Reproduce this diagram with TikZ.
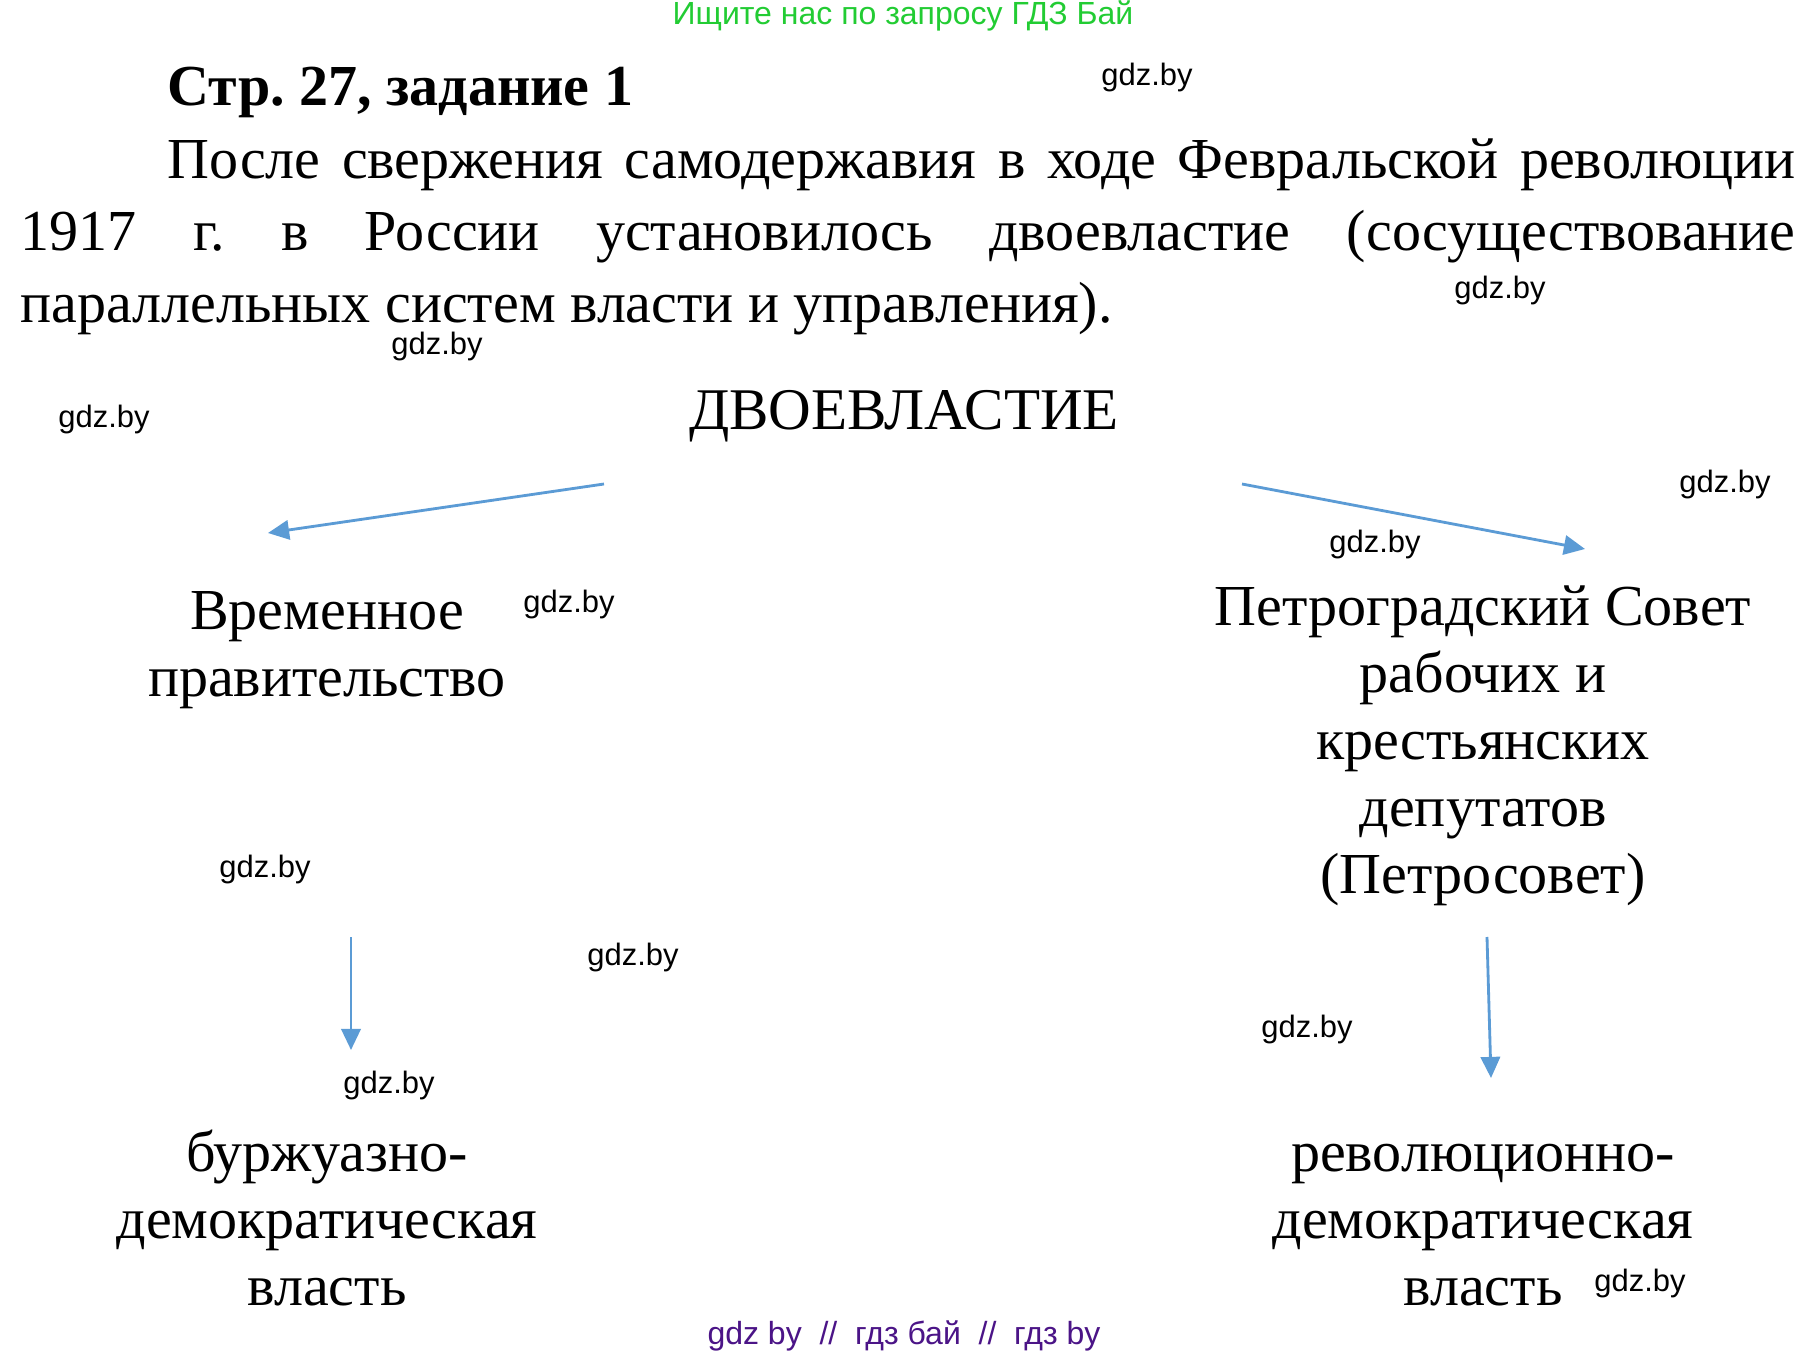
\documentclass[tikz,border=0pt]{standalone}
\usepackage{fontspec}
\setmainfont{Liberation Serif}
\newfontfamily\wmfont{Liberation Sans}
\usetikzlibrary{arrows.meta,calc}
\definecolor{arrowblue}{RGB}{91,155,213}
\definecolor{adgreen}{RGB}{34,204,51}
\definecolor{adpurple}{RGB}{75,20,135}
\frenchspacing

\begin{document}
\begin{tikzpicture}[x=0.01cm,y=-0.01cm]
        % Setup the styles for the texts and arrows
        \tikzset{big text/.style={font=\fontsize{16.5}{19}\selectfont,
                                  inner sep=0pt}}
        \tikzset{block text/.style={big text,
                                    align=center,
                                    anchor=base}}
        \tikzset{wm text/.style={font=\wmfont\fontsize{8.8}{10}\selectfont,
                                 inner sep=0pt}}
        \tikzset{ad text/.style={font=\wmfont\fontsize{9.1}{11}\selectfont,
                                 inner sep=0pt}}
        \tikzset{blue arrow/.style={draw=arrowblue,
                                    line width=0.8pt,
                                    -{Triangle[length=6pt,width=5.5pt]}}}

        \fill[white] (0,0) rectangle (1803,1352);
        \useasboundingbox (0,0) rectangle (1803,1352);

        % Header and text
        \node[ad text, text=adgreen] at (903,16) (ad) {Ищите нас по запросу ГДЗ Бай};
        \node[big text, font=\fontsize{16.5}{19}\selectfont\bfseries, anchor=base west] at (167,106) (title) {Стр. 27, задание 1};
        \node[big text, anchor=base west] at (167,179) (line1)
            {\makebox[16.27cm][s]{После свержения самодержавия в ходе Февральской революции}};
        \node[big text, anchor=base west] at (20,251) (line2)
            {\makebox[17.74cm][s]{1917 г. в России установилось двоевластие (сосуществование}};
        \node[big text, anchor=base west] at (20,323) (line3)
            {параллельных систем власти и управления).};

        % Draw the blocks (base = baseline of the last line)
        \node[block text, font=\fontsize{16.8}{19}\selectfont] at (904,430) (dual) {ДВОЕВЛАСТИЕ};
        \node[block text] at (327,696)  (vrem)  {Временное\\правительство};
        \node[block text] at (1483,893) (sovet) {Петроградский Совет\\рабочих и\\крестьянских\\депутатов\\(Петросовет)};
        \node[block text] at (327,1305) (burzh) {буржуазно-\\демократическая\\власть};
        \node[block text] at (1483,1305) (rev)  {революционно-\\демократическая\\власть};

        % Arrow ends
        \coordinate (dual-l)    at ($(dual.base)+(-300,54)$);
        \coordinate (dual-r)    at ($(dual.base)+(338,54)$);
        \coordinate (vrem-in)   at ($(vrem.base)+(-59,-163)$);
        \coordinate (sovet-in)  at ($(sovet.base)+(102,-344)$);
        \coordinate (vrem-out)  at ($(vrem.base)+(24,241)$);
        \coordinate (burzh-in)  at ($(burzh.base)+(24,-255)$);
        \coordinate (sovet-out) at ($(sovet.base)+(4,44)$);
        \coordinate (rev-in)    at ($(rev.base)+(8,-227)$);

        % Connect the blocks with arrows
        \draw[blue arrow] (dual-l) -- (vrem-in);
        \draw[blue arrow] (dual-r) -- (sovet-in);
        \draw[blue arrow] (vrem-out) -- (burzh-in);
        \draw[blue arrow] (sovet-out) -- (rev-in);

        % Watermarks
        \node[wm text] at (1147,78)  (wm1)  {gdz.by};
        \node[wm text] at (1500,291) (wm2)  {gdz.by};
        \node[wm text] at (437,347)  (wm3)  {gdz.by};
        \node[wm text] at (104,420)  (wm4)  {gdz.by};
        \node[wm text] at (1725,484) (wm5)  {gdz.by};
        \node[wm text] at (1375,544) (wm6)  {gdz.by};
        \node[wm text] at (569,604)  (wm7)  {gdz.by};
        \node[wm text] at (265,869)  (wm8)  {gdz.by};
        \node[wm text] at (633,957)  (wm9)  {gdz.by};
        \node[wm text] at (1307,1029) (wm10) {gdz.by};
        \node[wm text] at (389,1085) (wm11) {gdz.by};
        \node[wm text] at (1640,1283) (wm12) {gdz.by};
        \node[ad text, text=adpurple] at (904,1336) (foot) {gdz by \ // \ гдз бай \ // \ гдз by};
\end{tikzpicture}
\end{document}
